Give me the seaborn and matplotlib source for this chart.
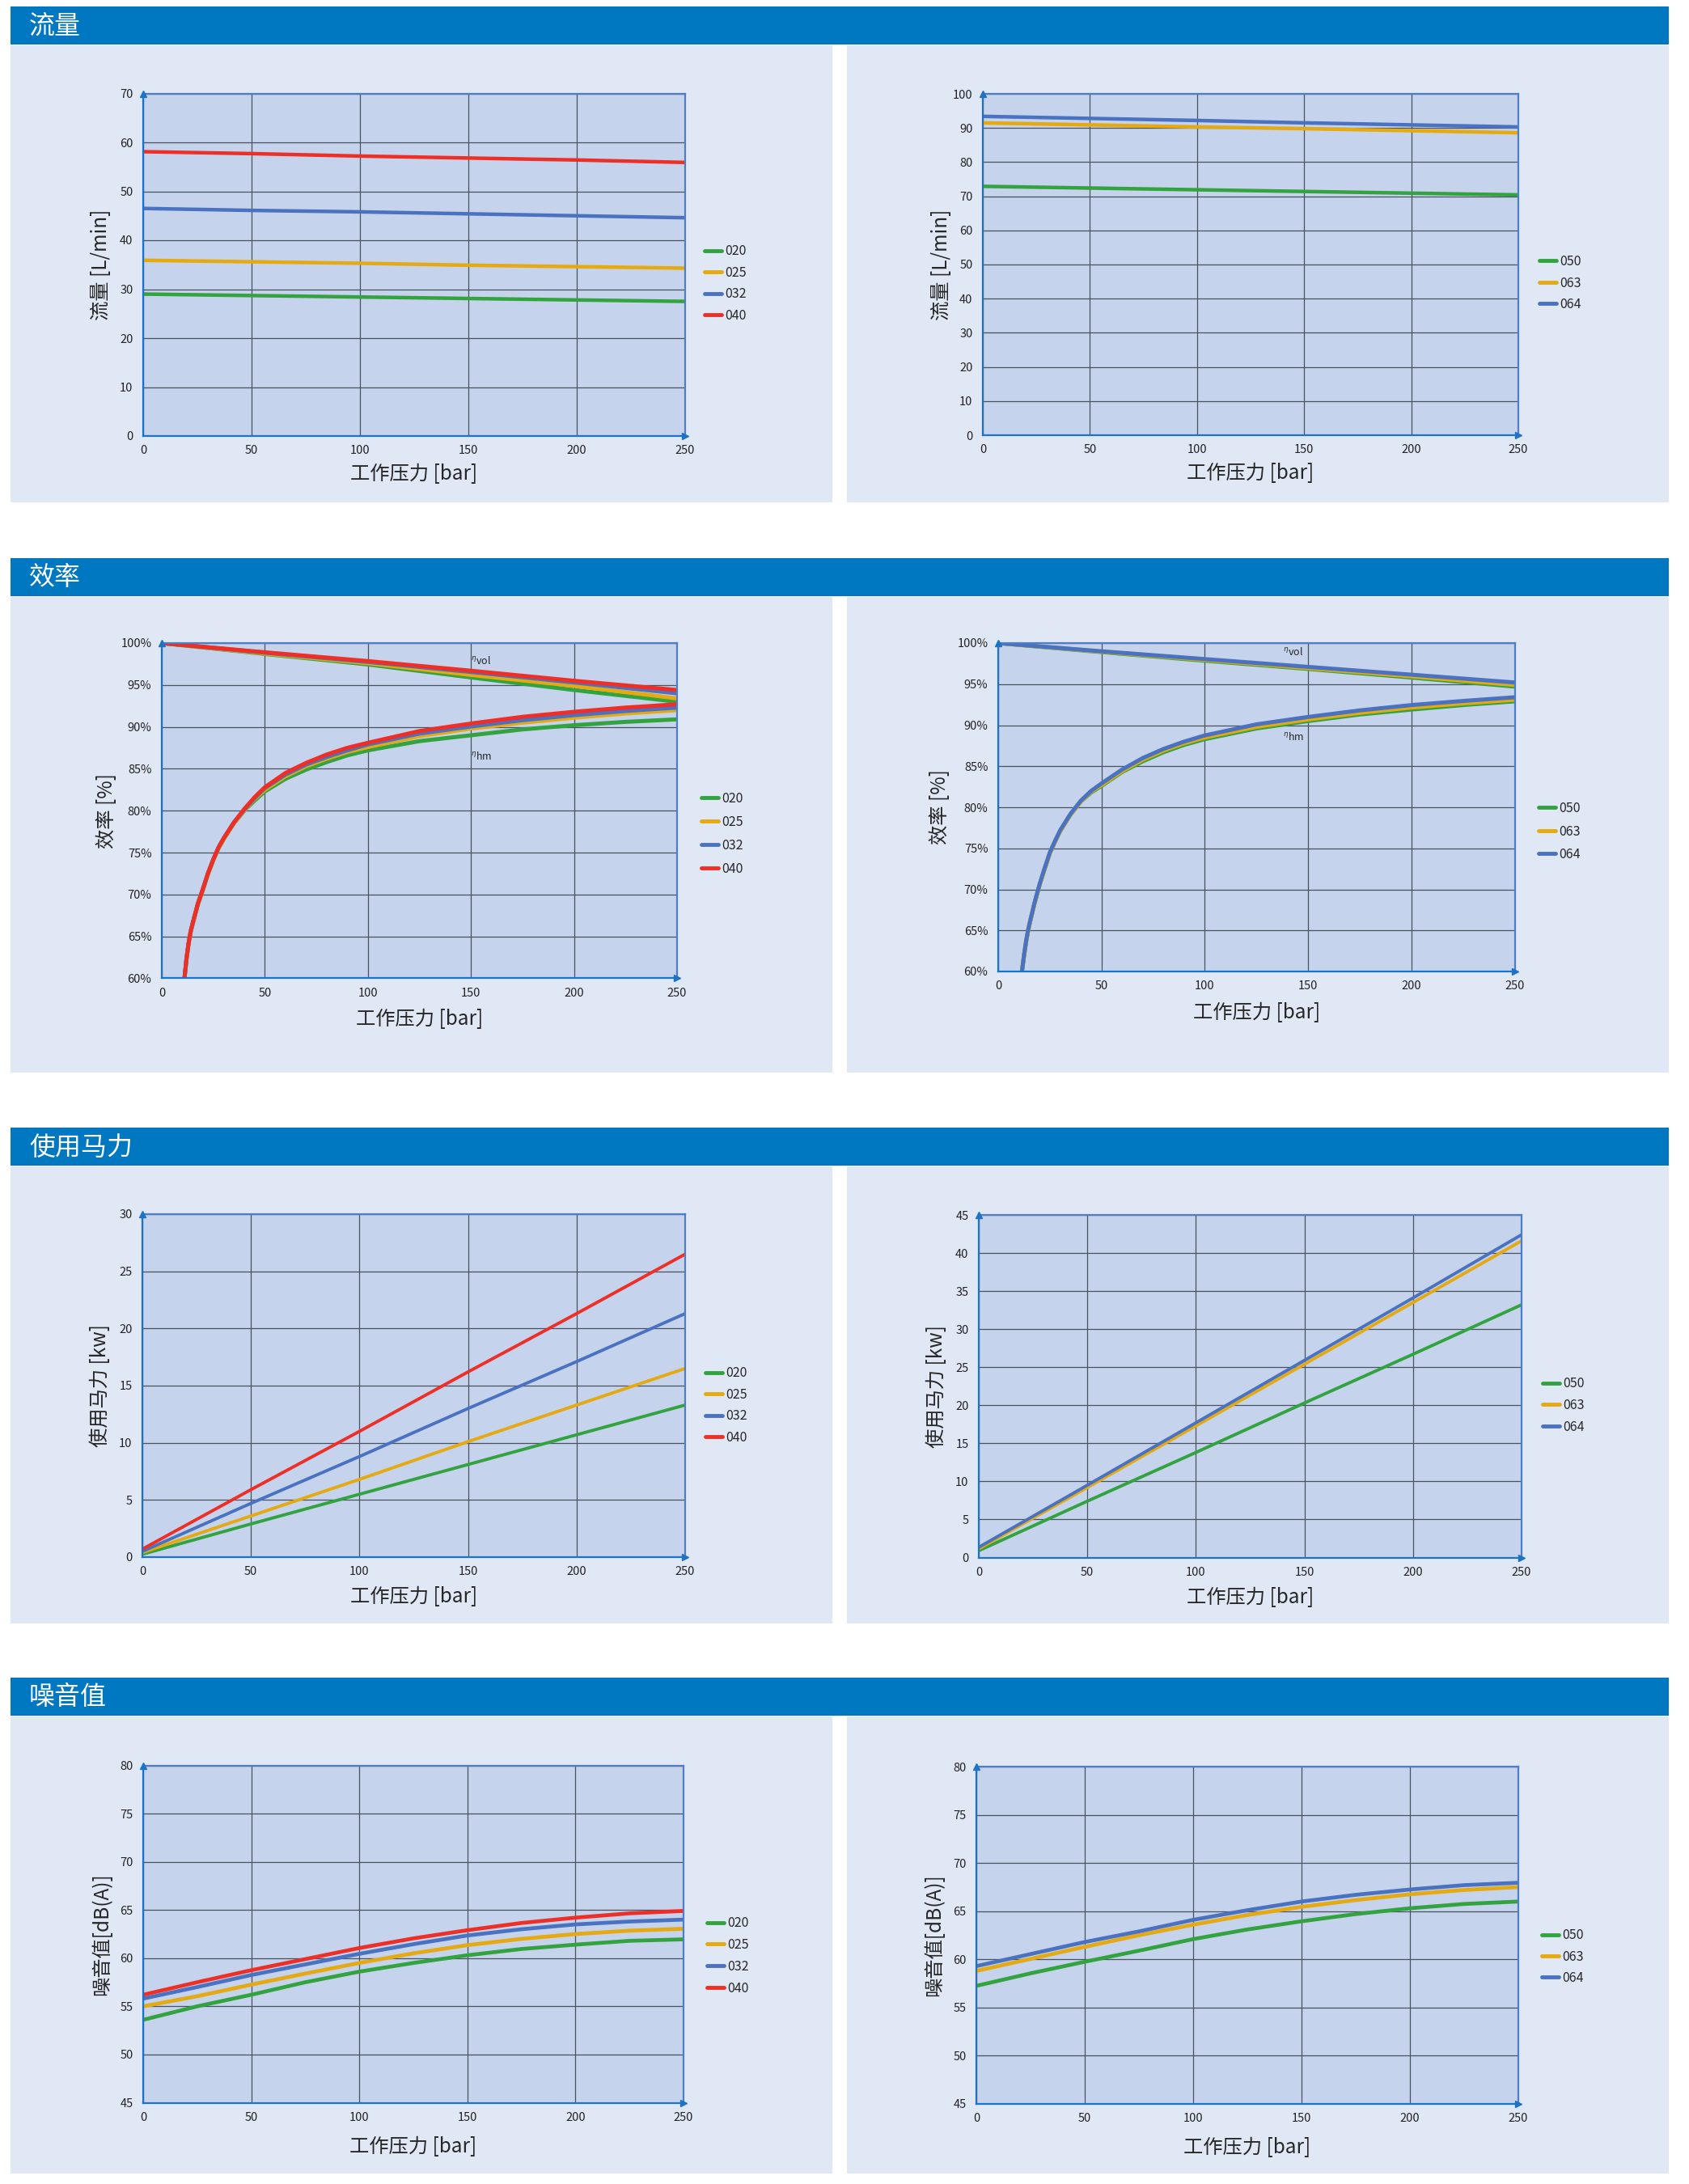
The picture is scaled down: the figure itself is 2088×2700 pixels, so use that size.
import matplotlib
matplotlib.use("Agg")
import matplotlib.pyplot as plt
from matplotlib.patches import Rectangle
import seaborn as sns

sns.set_style("white")
plt.rcParams["font.family"] = ["Noto Sans CJK SC", "DejaVu Sans"]
plt.rcParams["axes.unicode_minus"] = False

# ---- data ----
pressure = [0, 50, 100, 150, 200, 250]
pressure_25 = [0, 25, 50, 75, 100, 125, 150, 175, 200, 225, 250]

sizes_small = ["020", "025", "032", "040"]
sizes_large = ["050", "063", "064"]

# flow [L/min]
flow_020 = [29.0, 28.7, 28.4, 28.1, 27.8, 27.5]
flow_025 = [35.9, 35.6, 35.3, 34.9, 34.6, 34.3]
flow_032 = [46.5, 46.1, 45.8, 45.4, 45.0, 44.6]
flow_040 = [58.1, 57.7, 57.2, 56.8, 56.4, 55.9]
flow_050 = [72.9, 72.4, 71.9, 71.4, 70.9, 70.4]
flow_063 = [91.5, 90.9, 90.3, 89.8, 89.2, 88.6]
flow_064 = [93.4, 92.8, 92.2, 91.5, 90.9, 90.3]

# volumetric efficiency [%]
vol_020 = [100, 98.7, 97.45, 95.9, 94.4, 93.0]
vol_025 = [100, 98.75, 97.6, 96.2, 94.9, 93.4]
vol_032 = [100, 98.85, 97.75, 96.55, 95.3, 94.0]
vol_040 = [100, 98.9, 97.85, 96.7, 95.5, 94.4]
vol_050 = [100, 98.9, 97.85, 96.85, 95.8, 94.7]
vol_063 = [100, 98.95, 97.95, 96.95, 95.95, 94.9]
vol_064 = [100, 99.0, 98.05, 97.1, 96.15, 95.2]

# hydro-mechanical efficiency [%]
hm_p_small = [11, 12, 13, 14, 15, 17.5, 20, 22.5, 25, 27.5, 30, 35, 40, 45, 50,
              60, 70, 80, 90, 100, 125, 150, 175, 200, 225, 250]
hm_020 = [60.0, 62.3, 64.1, 65.5, 66.5, 68.8, 70.6, 72.5, 74.1, 75.5, 76.6, 78.5, 80.0, 81.2, 82.3,
          83.8, 84.9, 85.8, 86.6, 87.2, 88.3, 89.0, 89.7, 90.2, 90.6, 90.9]
hm_025 = [60.0, 62.3, 64.1, 65.5, 66.5, 68.8, 70.6, 72.5, 74.1, 75.5, 76.6, 78.5, 80.0, 81.4, 82.5,
          84.1, 85.3, 86.2, 87.0, 87.6, 88.9, 89.8, 90.5, 91.1, 91.6, 92.0]
hm_032 = [60.0, 62.4, 64.2, 65.6, 66.6, 68.9, 70.7, 72.6, 74.2, 75.6, 76.7, 78.6, 80.1, 81.5, 82.7,
          84.3, 85.5, 86.4, 87.2, 87.9, 89.2, 90.05, 90.8, 91.4, 91.9, 92.3]
hm_040 = [60.0, 62.4, 64.2, 65.6, 66.6, 68.9, 70.7, 72.6, 74.2, 75.6, 76.7, 78.6, 80.2, 81.6, 82.8,
          84.5, 85.7, 86.7, 87.5, 88.1, 89.5, 90.4, 91.2, 91.8, 92.3, 92.7]
hm_p_large = [11.5, 12.5, 13.5, 14.5, 15.5, 17.5, 20, 22.5, 25, 27.5, 30, 35, 40, 45, 50,
              60, 70, 80, 90, 100, 125, 150, 175, 200, 225, 250]
hm_050 = [60.0, 61.9, 63.6, 65.0, 66.1, 68.2, 70.5, 72.5, 74.4, 75.8, 77.1, 79.1, 80.7, 81.8, 82.6,
          84.3, 85.6, 86.7, 87.6, 88.3, 89.6, 90.5, 91.3, 91.9, 92.45, 92.9]
hm_063 = [60.0, 61.9, 63.6, 65.0, 66.1, 68.2, 70.5, 72.5, 74.4, 75.8, 77.1, 79.1, 80.7, 81.9, 82.7,
          84.4, 85.8, 86.9, 87.8, 88.5, 89.8, 90.7, 91.5, 92.15, 92.65, 93.1]
hm_064 = [60.0, 62.0, 63.7, 65.1, 66.2, 68.3, 70.6, 72.6, 74.5, 75.9, 77.2, 79.2, 80.8, 82.0, 82.9,
          84.6, 86.0, 87.1, 88.0, 88.75, 90.1, 91.0, 91.8, 92.45, 92.95, 93.4]

# power [kW]
power_020 = [0.25, 2.9, 5.5, 8.1, 10.7, 13.3]
power_025 = [0.4, 3.6, 6.8, 10.1, 13.3, 16.5]
power_032 = [0.5, 4.7, 8.8, 13.0, 17.1, 21.3]
power_040 = [0.7, 5.9, 11.0, 16.2, 21.3, 26.5]
power_050 = [0.9, 7.4, 13.8, 20.3, 26.7, 33.2]
power_063 = [1.15, 9.2, 17.3, 25.4, 33.5, 41.6]
power_064 = [1.35, 9.5, 17.7, 25.9, 34.1, 42.4]

# noise [dB(A)]
noise_020 = [53.6, 55.0, 56.2, 57.5, 58.6, 59.5, 60.3, 60.95, 61.4, 61.8, 61.95]
noise_025 = [55.0, 56.05, 57.25, 58.4, 59.5, 60.5, 61.35, 62.0, 62.5, 62.85, 63.05]
noise_032 = [55.8, 57.0, 58.25, 59.35, 60.45, 61.45, 62.35, 63.0, 63.5, 63.8, 64.0]
noise_040 = [56.2, 57.5, 58.75, 59.9, 61.05, 62.05, 62.9, 63.65, 64.2, 64.65, 64.9]
noise_050 = [57.25, 58.55, 59.75, 60.9, 62.1, 63.1, 63.95, 64.7, 65.3, 65.75, 66.0]
noise_063 = [58.8, 60.05, 61.3, 62.5, 63.6, 64.6, 65.45, 66.15, 66.75, 67.2, 67.5]
noise_064 = [59.3, 60.55, 61.8, 62.9, 64.1, 65.1, 66.0, 66.7, 67.25, 67.7, 67.95]

section_titles = ["流量", "效率", "使用马力", "噪音值"]
x_label = "工作压力 [bar]"

palette = {"020": "#33a33f", "025": "#e5a912", "032": "#4a72c0", "040": "#ee2f27",
           "050": "#33a33f", "063": "#e5a912", "064": "#4a72c0"}

# ---- figure ----
W, H = 2088, 2700
fig = plt.figure(figsize=(W / 100, H / 100), dpi=100)
fig.patch.set_facecolor("white")


def px_rect(x0, y0, x1, y1, color):
    fig.patches.append(Rectangle((x0 / W, 1 - y1 / H), (x1 - x0) / W, (y1 - y0) / H,
                                 transform=fig.transFigure, color=color, lw=0,
                                 zorder=-10))


headers = [(8, 55), (690, 737), (1394, 1441), (2074, 2121)]
panels = [(56, 621), (738, 1326), (1442, 2007), (2122, 2687)]
for (h0, h1), (p0, p1), title in zip(headers, panels, section_titles):
    px_rect(13, h0, 2063, h1, "#0078c1")
    px_rect(13, p0, 1029, p1, "#e1e8f5")
    px_rect(1047, p0, 2063, p1, "#e1e8f5")
    fig.text(36 / W, 1 - (h0 + h1 + 2) / 2 / H, title, color="white", fontsize=23,
             va="center", ha="left", zorder=-5)


def make_ax(x0, x1, y0, y1):
    ax = fig.add_axes([x0 / W, 1 - y1 / H, (x1 - x0) / W, (y1 - y0) / H])
    return ax, (x1 - x0), (y1 - y0)


def style_ax(ax, wpx, hpx, ylim, ystep, ylabel, yoff, xoff, pct=False):
    ax.set_facecolor("#c5d4ec")
    ax.set_xlim(0, 250)
    ax.set_ylim(*ylim)
    ax.set_xticks(range(0, 251, 50))
    yt = list(range(ylim[0], ylim[1] + 1, ystep))
    ax.set_yticks(yt)
    if pct:
        ax.set_yticklabels([f"{v}%" for v in yt])
    ax.grid(True, color="#4a5260", lw=0.9)
    ax.set_axisbelow(True)
    ax.tick_params(axis="x", length=4, width=0.8, color="#4a5260", pad=4,
                   labelsize=10.5, labelcolor="#222222")
    ax.tick_params(axis="y", length=0, pad=9, labelsize=10.5, labelcolor="#222222")
    for s in ["left", "bottom"]:
        ax.spines[s].set_color("#1f73c4")
        ax.spines[s].set_linewidth(1.6)
    for s in ["top", "right"]:
        ax.spines[s].set_color("#4f7ec4")
        ax.spines[s].set_linewidth(1.6)
    ax.plot([0], [1], marker="^", ms=6, color="#1f73c4", transform=ax.transAxes,
            clip_on=False, zorder=5)
    ax.plot([1], [0], marker=">", ms=6, color="#1f73c4", transform=ax.transAxes,
            clip_on=False, zorder=5)
    ax.set_xlabel(x_label, fontsize=17.5, va="center")
    ax.xaxis.set_label_coords(0.5, -xoff / hpx)
    ax.set_ylabel(ylabel, fontsize=17.5, va="center")
    ax.yaxis.set_label_coords(-yoff / wpx, 0.5)


def add_legend(ax, x, yc, spacing):
    leg = ax.legend(loc="center left", bbox_to_anchor=(x / W, 1 - yc / H),
                    bbox_transform=fig.transFigure, frameon=False, fontsize=11.5,
                    handlelength=1.3, handletextpad=0.3, labelspacing=spacing,
                    borderpad=0, borderaxespad=0)
    for line in leg.get_lines():
        line.set_linewidth(3.5)


def draw(ax, xs, series, names, lw=3.2, label=True):
    for name, vals in zip(names, series):
        sns.lineplot(x=xs, y=vals, color=palette[name], linewidth=lw,
                     label=name if label else None, ax=ax, legend=False)


# ---- 流量 ----
ax, w, h = make_ax(177, 847, 115.5, 539)
draw(ax, pressure, [flow_020, flow_025, flow_032, flow_040], sizes_small)
style_ax(ax, w, h, (0, 70), 10, "流量 [L/min]", 52, 47)
add_legend(ax, 871, 350.5, 0.6)

ax, w, h = make_ax(1215, 1877, 116, 538)
draw(ax, pressure, [flow_050, flow_063, flow_064], sizes_large)
style_ax(ax, w, h, (0, 100), 10, "流量 [L/min]", 51, 47)
add_legend(ax, 1903, 350, 0.6)

# ---- 效率 ----
ax, w, h = make_ax(200, 837, 795, 1209.5)
draw(ax, pressure, [vol_020, vol_025, vol_032, vol_040], sizes_small, lw=3.6)
draw(ax, hm_p_small, [hm_020, hm_025, hm_032, hm_040], sizes_small, lw=3.6, label=False)
style_ax(ax, w, h, (60, 100), 5, "效率 [%]", 68, 51, pct=True)
ax.text(150, 97.85, r"$^{\eta}$vol", fontsize=9, va="center", ha="left")
ax.text(150, 86.5, r"$^{\eta}$hm", fontsize=9, va="center", ha="left")
add_legend(ax, 867, 1031, 0.75)

ax, w, h = make_ax(1234, 1872.5, 795, 1201)
draw(ax, pressure, [vol_050, vol_063, vol_064], sizes_large, lw=3.6)
draw(ax, hm_p_large, [hm_050, hm_063, hm_064], sizes_large, lw=3.6, label=False)
style_ax(ax, w, h, (60, 100), 5, "效率 [%]", 72, 51, pct=True)
ax.text(138, 98.9, r"$^{\eta}$vol", fontsize=9, va="center", ha="left")
ax.text(138, 88.6, r"$^{\eta}$hm", fontsize=9, va="center", ha="left")
add_legend(ax, 1902, 1028, 0.72)

# ---- 使用马力 ----
ax, w, h = make_ax(176, 847, 1501, 1925)
draw(ax, pressure, [power_020, power_025, power_032, power_040], sizes_small, lw=2.8)
style_ax(ax, w, h, (0, 30), 5, "使用马力 [kw]", 52, 49.5)
add_legend(ax, 872, 1737.5, 0.6)

ax, w, h = make_ax(1210, 1881, 1502, 1925.5)
draw(ax, pressure, [power_050, power_063, power_064], sizes_large, lw=2.8)
style_ax(ax, w, h, (0, 45), 5, "使用马力 [kw]", 52, 49.5)
add_legend(ax, 1907, 1737.5, 0.6)

# ---- 噪音值 ----
ax, w, h = make_ax(177, 845, 2182.5, 2599.5)
draw(ax, pressure_25, [noise_020, noise_025, noise_032, noise_040], sizes_small, lw=3.4)
style_ax(ax, w, h, (45, 80), 5, "噪音值[dB(A)]", 51, 54)
add_legend(ax, 874, 2418, 0.62)

ax, w, h = make_ax(1207, 1877, 2184, 2601)
draw(ax, pressure_25, [noise_050, noise_063, noise_064], sizes_large, lw=3.4)
style_ax(ax, w, h, (45, 80), 5, "噪音值[dB(A)]", 52, 54)
add_legend(ax, 1906, 2419, 0.58)

fig.savefig("out.png", dpi=100, facecolor=fig.get_facecolor())
